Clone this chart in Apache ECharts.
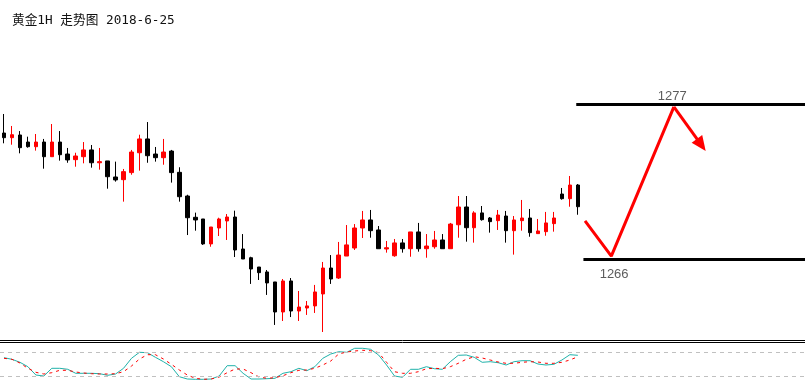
<!DOCTYPE html>
<html><head><meta charset="utf-8">
<script src="https://cdn.jsdelivr.net/npm/echarts@6/dist/echarts.min.js"></script>
<style>html,body{margin:0;padding:0;background:#fff}#c{width:805px;height:385px}</style>
</head><body><div id="c"></div>
<script>
const titleText = '黄金1H 走势图 2018-6-25';
const slotCount = 101;
const categories = Array.from({length: slotCount}, (_, i) => String(i));

const opens  = [1274.94,1274.61,1274.80,1274.30,1273.97,1274.30,1273.26,1274.30,1273.45,1273.05,
                1273.26,1273.74,1272.83,1272.96,1271.82,1271.63,1272.13,1273.54,1274.52,1273.45,
                1273.19,1273.66,1272.15,1270.47,1268.96,1268.84,1267.07,1268.20,1268.70,1268.98,
                1266.71,1266.09,1265.43,1265.08,1264.37,1262.24,1264.44,1262.31,1262.52,1262.67,
                1263.52,1265.36,1264.65,1266.21,1266.78,1268.20,1268.77,1268.06,1266.71,1266.23,
                1267.14,1266.73,1267.92,1266.73,1266.87,1267.35,1266.73,1268.43,1269.69,1268.22,
                1269.27,1268.91,1268.72,1269.05,1268.01,1268.72,1268.91,1267.80,1267.94,1268.51,
                1270.61,1270.28,1271.25];
const closes = [1274.61,1274.82,1273.90,1273.97,1274.30,1273.26,1274.30,1273.40,1273.03,1273.31,
                1273.74,1272.83,1272.91,1271.84,1271.61,1272.20,1273.59,1274.52,1273.33,1273.19,
                1273.59,1272.13,1270.42,1268.93,1268.77,1267.07,1268.27,1268.84,1268.98,1266.64,
                1266.00,1265.29,1265.03,1264.30,1262.24,1264.44,1262.31,1262.59,1262.67,1263.66,
                1265.36,1264.58,1266.28,1267.00,1268.20,1268.77,1268.01,1266.73,1266.80,1267.14,
                1266.73,1267.92,1266.73,1266.92,1267.35,1266.73,1268.48,1269.69,1268.22,1269.27,
                1268.79,1268.65,1269.12,1268.01,1268.77,1268.91,1267.87,1267.99,1268.56,1268.91,
                1270.28,1271.25,1269.71];
const lows   = [1274.21,1274.11,1273.50,1273.90,1273.69,1272.41,1273.26,1272.98,1272.83,1272.55,
                1272.79,1272.48,1272.34,1270.99,1271.49,1270.07,1271.98,1272.27,1272.83,1272.91,
                1272.69,1271.42,1270.07,1267.70,1268.01,1267.00,1266.87,1267.63,1267.35,1266.14,
                1266.00,1264.23,1264.51,1263.45,1261.32,1261.60,1261.88,1261.60,1262.03,1262.17,
                1260.82,1264.23,1264.58,1266.21,1266.64,1267.49,1267.51,1266.73,1266.45,1266.16,
                1266.45,1266.16,1266.52,1266.09,1266.73,1266.73,1266.73,1267.51,1267.23,1267.16,
                1268.72,1267.87,1268.06,1267.16,1266.31,1268.01,1267.58,1267.80,1267.65,1267.94,
                1270.21,1269.71,1269.14];
const highs  = [1276.29,1275.44,1275.08,1274.68,1274.87,1274.52,1275.58,1275.08,1273.88,1273.54,
                1274.30,1274.09,1273.88,1272.96,1272.91,1272.39,1273.74,1274.82,1275.72,1273.95,
                1274.52,1273.74,1272.51,1270.56,1269.29,1268.84,1268.27,1268.93,1269.19,1269.43,
                1267.77,1266.16,1265.43,1265.22,1264.37,1264.58,1264.65,1263.73,1263.02,1264.16,
                1265.79,1266.28,1267.21,1268.41,1268.48,1269.41,1269.48,1268.34,1267.28,1267.42,
                1267.42,1267.92,1268.56,1267.77,1267.99,1267.77,1268.56,1270.47,1270.47,1269.39,
                1269.76,1268.98,1269.48,1269.41,1269.05,1270.19,1269.55,1268.84,1269.34,1269.34,
                1271.04,1271.89,1271.32];

const kLine = [66.5,62.5,55,44,23.25,20.75,40,40,37.5,27.5,
               27.5,27.5,26.5,22.5,25.75,40,65,80,79,67.5,
               56.5,44,19,13.25,12.5,12.5,13.25,20.75,46.5,46.5,
               27.5,13.25,13.25,14,15,27.5,31.5,40,34,44,
               65,75.75,81.5,80,90,90,87.5,73.25,48.25,20.75,
               17.5,37.5,37.5,44,39,37.5,56.5,72.5,73.25,67.5,
               55,56.5,54,48.25,56.5,59,59,50.75,48.25,50,
               60.75,74,72.5];
const dLine = [65,62.5,53.25,40,30,25.75,29,35,35,30.75,
               28.25,26.5,25.75,25.75,26.5,31.5,45.75,63.25,74,74,
               63.25,50,35.75,23.25,15,12.5,13.25,18.25,29,38.25,
               38.25,29,18.25,15,16.5,21.5,29,35,35.75,40,
               48.25,58.25,75.75,80.75,83.25,85,84,79,55,31.5,
               27.5,27.5,31.5,39,40,39,44,52.5,62.5,69,
               65.75,60.75,55.75,52.5,52.5,55,56.5,55.75,52.5,52.5,
               55,60.75,69];
const oscLevels = [80, 20];

const levelPrices = [1277, 1266];
const levelStarts = [71.8, 72.7];
const levelEnd = 100.5;
const levelLabelX = [83.85, 76.55];
const pathX = [72.9, 76.2, 84.05];
const pathY = [1268.7, 1266.2, 1276.8];
const arrowEnd = [87.49, 1274.09];

const chart = echarts.init(document.getElementById('c'), null, {renderer: 'canvas'});
const candleData = opens.map((o, i) => [o, closes[i], lows[i], highs[i]]);

const option = {
  animation: false,
  backgroundColor: '#fff',
  title: {
    text: titleText, left: 7, top: 9,
    textStyle: {fontSize: 12.7, fontWeight: 'normal', color: '#111',
      fontFamily: '"DejaVu Sans Mono","Noto Sans CJK SC",monospace'}
  },
  grid: [
    {left: -0.7, width: 808, top: 19.45, height: 324.09},
    {left: -0.7, width: 808, top: 344.3, height: 40}
  ],
  xAxis: [
    {type: 'category', data: categories, gridIndex: 0, boundaryGap: true, show: false},
    {type: 'value', min: -0.5, max: slotCount - 0.5, gridIndex: 0, show: false},
    {type: 'category', data: categories, gridIndex: 1, boundaryGap: true, show: false}
  ],
  yAxis: [
    {type: 'value', min: 1260, max: 1283, gridIndex: 0, show: false, scale: true},
    {type: 'value', min: 0, max: 100, gridIndex: 1, show: false}
  ],
  graphic: [
    {type: 'line', shape: {x1: 0, y1: 340.5, x2: 805, y2: 340.5}, style: {stroke: '#000', lineWidth: 1}, silent: true},
    {type: 'line', shape: {x1: 0, y1: 342.5, x2: 805, y2: 342.5}, style: {stroke: '#000', lineWidth: 1}, silent: true}
  ],
  series: [
    {
      type: 'candlestick', xAxisIndex: 0, yAxisIndex: 0, data: candleData,
      barWidth: 4,
      itemStyle: {color: '#ff0000', color0: '#000000', borderColor: '#ff0000', borderColor0: '#000000', borderWidth: 1}
    },
    {
      type: 'line', xAxisIndex: 1, yAxisIndex: 0,
      data: pathX.map((x, i) => [x, pathY[i]]),
      symbol: 'none', lineStyle: {color: '#ff0000', width: 3}, silent: true,
      markLine: {
        silent: true, symbol: ['none', 'none'], animation: false,
        label: {show: false},
        data: [
          ...levelPrices.map((p, i) => [
            {coord: [levelStarts[i], p], lineStyle: {color: '#000', width: 3, type: 'solid'}},
            {coord: [levelEnd, p]}
          ]),
          [
            {coord: [pathX[pathX.length - 1], pathY[pathY.length - 1]], symbol: 'none', lineStyle: {color: '#ff0000', width: 3, type: 'solid'}},
            {coord: arrowEnd, symbol: 'triangle', symbolSize: [13, 15]}
          ]
        ]
      }
    },
    {
      type: 'scatter', xAxisIndex: 1, yAxisIndex: 0, symbolSize: 0, silent: true,
      data: levelPrices.map((p, i) => ({
        value: [levelLabelX[i], p],
        label: {show: true, position: i === 0 ? 'top' : 'bottom', distance: i === 0 ? 1 : 9,
          formatter: String(p), fontSize: 13, color: '#333', fontFamily: '"Liberation Sans", Arial, sans-serif'}
      }))
    },
    {
      type: 'line', xAxisIndex: 2, yAxisIndex: 1, data: kLine, symbol: 'none', silent: true,
      lineStyle: {color: '#20b2aa', width: 1},
      markLine: {
        silent: true, symbol: ['none', 'none'], label: {show: false},
        lineStyle: {color: '#c0c0c0', type: [4, 4], width: 1},
        data: oscLevels.map(v => ({yAxis: v}))
      }
    },
    {
      type: 'line', xAxisIndex: 2, yAxisIndex: 1, data: dLine, symbol: 'none', silent: true,
      lineStyle: {color: '#ff0000', width: 1, type: [3, 4]}
    }
  ]
};
chart.setOption(option);
</script>
</body></html>
